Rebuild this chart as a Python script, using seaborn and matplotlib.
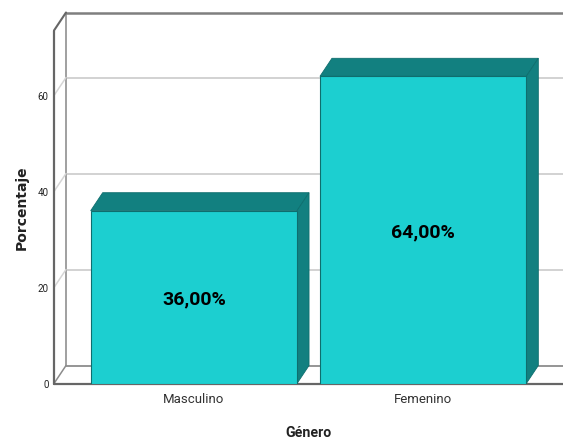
import matplotlib
matplotlib.use("Agg")
import matplotlib.pyplot as plt
from matplotlib.patches import Polygon
from matplotlib.transforms import ScaledTranslation
import seaborn as sns
import pandas as pd

categories = ["Masculino", "Femenino"]
values = [36.0, 64.0]
value_labels = ["36,00%", "64,00%"]
y_ticks = [0, 20, 40, 60]
x_title = "Género"
y_title = "Porcentaje"

FACE = "#1CCFD0"
DARK = "#128080"
EDGE = "#0E6E6E"
W, H = 563, 439
DX, DY = 12, 18  # depth of the pseudo-3D box in pixels
L, R, B, T = 54, 563, 384.5, 31.5
cond = ["Roboto", "DejaVu Sans"]

sns.set_theme(style="white")
plt.rcParams["font.family"] = cond

fig = plt.figure(figsize=(W / 100, H / 100), dpi=100)
ax = fig.add_axes([L / W, 1 - B / H, (R - L) / W, (B - T) / H])
df = pd.DataFrame({"g": categories, "v": values})
sns.barplot(data=df, x="g", y="v", color=FACE, saturation=1, width=0.9, ax=ax, zorder=3,
            edgecolor=EDGE, linewidth=0.8)
ax.set_xlim(-0.61, 1.61)
ax.set_ylim(0, (B - T) / 4.8)
for s in ax.spines.values():
    s.set_visible(False)

def shift(dx, dy):
    return ax.transData + ScaledTranslation(dx / 100, dy / 100, fig.dpi_scale_trans)

xa, xb = ax.get_xlim()
ya, yb = ax.get_ylim()
back = shift(DX, DY)

# back wall: gridlines, floor and top edge
for t in y_ticks:
    col = "#8C8C8C" if t == 0 else "#CFCFCF"
    ax.plot([xa, xb], [t, t], transform=back, color=col, lw=1.3, zorder=1, clip_on=False)
ax.plot([xa, xa], [0, yb], transform=back, color="#999999", lw=1.3, zorder=1, clip_on=False)
ax.plot([xa, xb], [yb, yb], transform=back, color="#7F7F7F", lw=1.8, zorder=1, clip_on=False)

inv = ax.transData.inverted()
def data_at(x, y, dx, dy):
    px = ax.transData.transform((x, y)) + (dx, dy)
    return inv.transform(px)

# diagonals joining the left wall to the back wall
for t in y_ticks:
    q = data_at(xa, t, DX, DY)
    ax.plot([xa, q[0]], [t, q[1]], color="#8C8C8C" if t == 0 else "#D5D5D5", lw=1.1, zorder=1, clip_on=False)
q = data_at(xa, yb, DX, DY)
ax.plot([xa, q[0]], [yb, q[1]], color="#666666", lw=1.5, zorder=2, clip_on=False)
ax.plot([xa, xa], [0, yb], color="#666666", lw=1.6, zorder=2, clip_on=False)
ax.plot([xa, xb], [0, 0], color="#666666", lw=1.6, zorder=2, clip_on=False)

# bar sides and tops derived from the seaborn bars
for bar, lab in zip(ax.patches, value_labels):
    x0, x1 = bar.get_x(), bar.get_x() + bar.get_width()
    h = bar.get_height()
    tl, tr, br = data_at(x0, h, DX, DY), data_at(x1, h, DX, DY), data_at(x1, 0, DX, DY)
    ax.add_patch(Polygon([(x0, h), (x1, h), tr, tl], facecolor=DARK, edgecolor=EDGE, lw=0.6, zorder=2, clip_on=False))
    ax.add_patch(Polygon([(x1, h), tr, br, (x1, 0)], facecolor=DARK, edgecolor=EDGE, lw=0.6, zorder=2, clip_on=False))
    ax.annotate(lab, ((x0 + x1) / 2, h / 2), xytext=(0, -0.8), textcoords="offset points",
                ha="center", va="center", fontsize=14, fontweight="bold", color="black", zorder=4)

ax.set_yticks(y_ticks, [str(t) for t in y_ticks])
ax.tick_params(axis="y", length=0, pad=4, labelsize=7, labelcolor="#222222")
ax.tick_params(axis="x", length=0, pad=6, labelsize=9.5, labelcolor="#333333")
ax.set_xlabel(x_title, fontsize=10.2, fontweight="bold", color="#222222", labelpad=14.2)
ax.set_ylabel(y_title, fontsize=10, fontweight="bold", color="#222222", family="DejaVu Sans", labelpad=6.5)
fig.savefig("out.png", dpi=100)
